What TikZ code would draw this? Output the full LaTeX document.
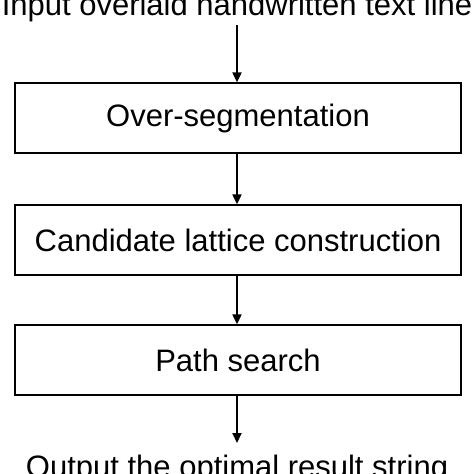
\documentclass[tikz,border=0pt]{standalone}
\usepackage{fontspec}
\setmainfont{Liberation Sans}
\usetikzlibrary{arrows.meta}
\begin{document}
\begin{tikzpicture}[x=1pt,y=1pt,
  procbox/.style={draw=black,line width=1.3pt,minimum width=446pt,minimum height=70pt,inner sep=0pt,font=\fontsize{31}{36}\selectfont},
  plaintext/.style={inner sep=0pt,anchor=base,font=\fontsize{31}{36}\selectfont},
  flow/.style={line width=2pt,-{Triangle[length=10pt,width=9pt]}}]
\useasboundingbox (0,0) rectangle (474,-474);
\fill[white] (0,0) rectangle (474,-474);
\node[plaintext] (in) at (237,-15) {Input overlaid handwritten text line};
\node[procbox] (b1) at (238,-118) {Over-segmentation};
\node[procbox] (b2) at (238,-240) {Candidate lattice construction};
\node[procbox] (b3) at (238,-360) {Path search};
\node[plaintext] (out) at (237,-477) {Output the optimal result string};
\coordinate (s0) at (237,-25);
\coordinate (e4) at (237,-443);
\draw[flow] (s0) -- (b1.north -| s0);
\draw[flow] (b1.south -| s0) -- (b2.north -| s0);
\draw[flow] (b2.south -| s0) -- (b3.north -| s0);
\draw[flow] (b3.south -| s0) -- (e4);
\end{tikzpicture}
\end{document}
